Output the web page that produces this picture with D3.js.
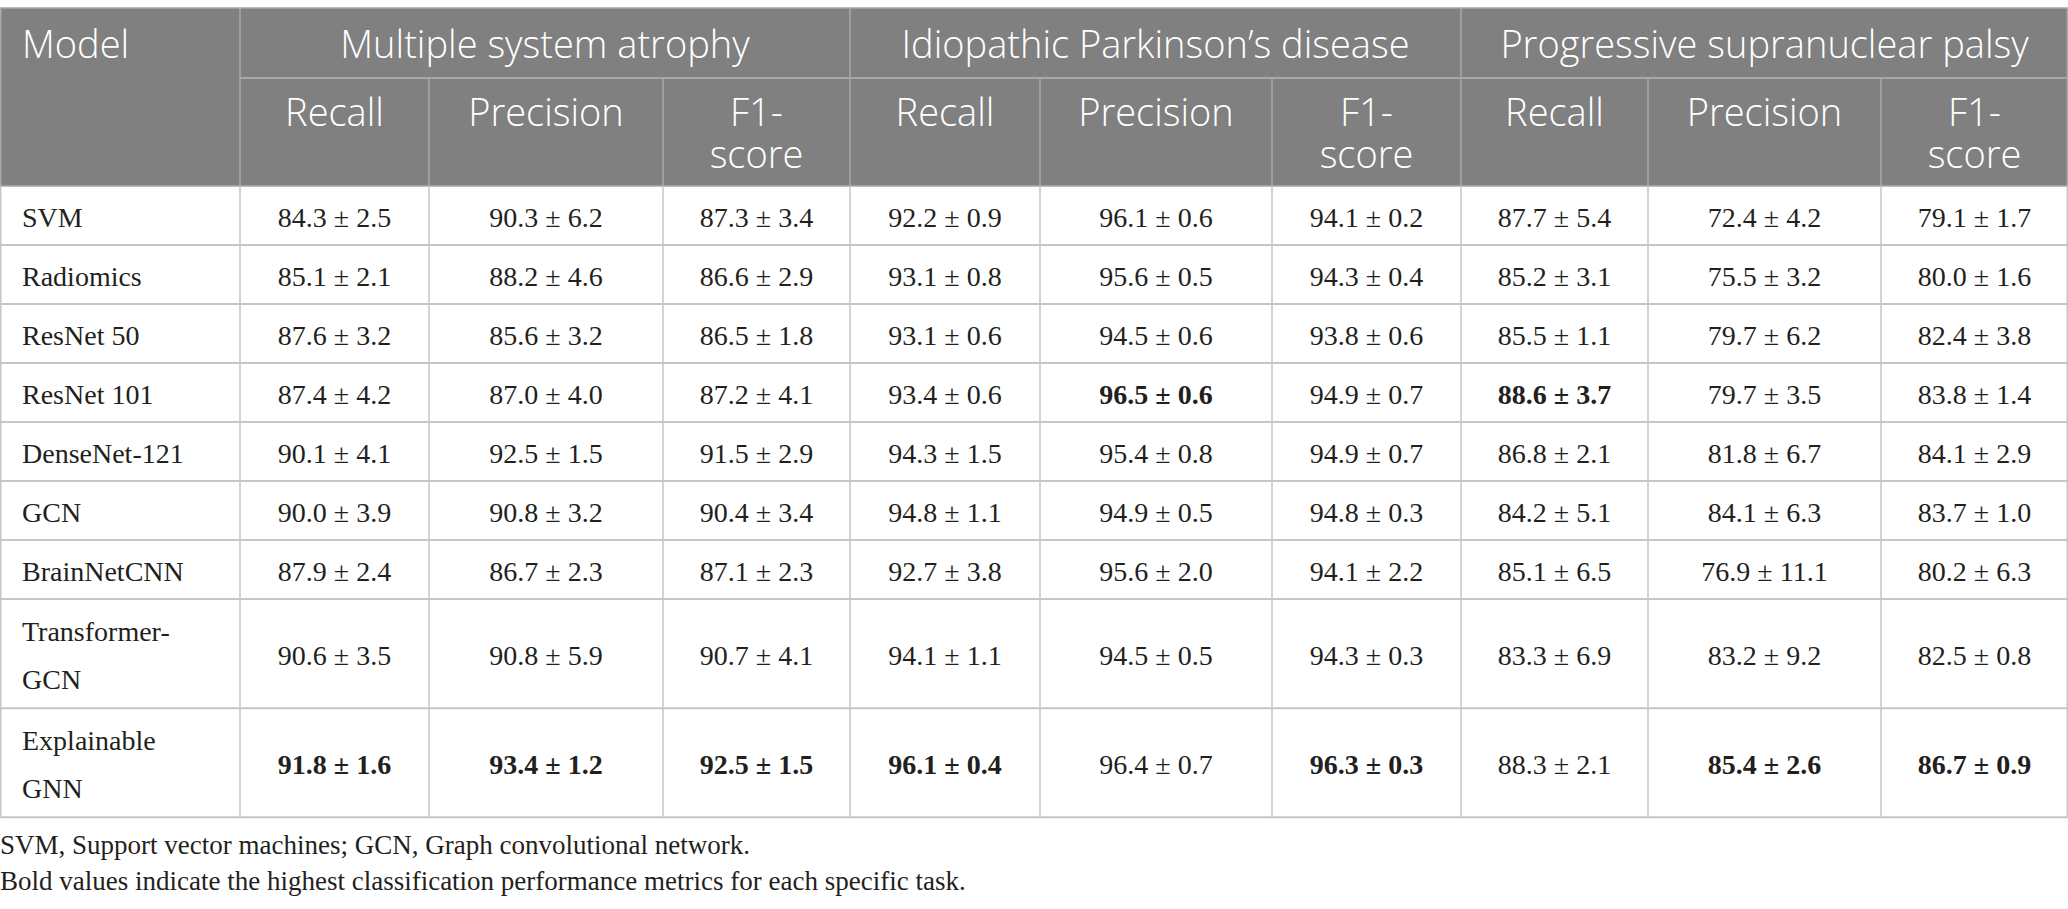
<!DOCTYPE html>
<html>
<head>
  <meta charset="utf-8">
  <title>Classification performance table</title>
  <style>
    html, body { margin: 0; padding: 0; background: #ffffff; }
    .head text { font-family: "Open Sans", "Noto Sans", sans-serif; font-weight: 300; fill: #ffffff; }
    .cell text { font-family: "Liberation Serif", "DejaVu Serif", serif; fill: #231f20; }
    .note text { font-family: "Liberation Serif", "DejaVu Serif", serif; fill: #231f20; }
  </style>
</head>
<body>
  <svg id="tbl"></svg>
  <script src="https://d3js.org/d3.v7.min.js"></script>
  <script>
    // table content
    const models = ["SVM", "Radiomics", "ResNet 50", "ResNet 101", "DenseNet-121", "GCN",
      "BrainNetCNN", "Transformer-\nGCN", "Explainable\nGNN"];
    const diseases = ["Multiple system atrophy", "Idiopathic Parkinson\u2019s disease", "Progressive supranuclear palsy"];
    const metrics = ["Recall", "Precision", "F1-\nscore"];

    // mean and sd per model: [recall, precision, f1]
    const msaMean = [[84.3, 90.3, 87.3], [85.1, 88.2, 86.6], [87.6, 85.6, 86.5], [87.4, 87.0, 87.2],
      [90.1, 92.5, 91.5], [90.0, 90.8, 90.4], [87.9, 86.7, 87.1], [90.6, 90.8, 90.7], [91.8, 93.4, 92.5]];
    const msaSd = [[2.5, 6.2, 3.4], [2.1, 4.6, 2.9], [3.2, 3.2, 1.8], [4.2, 4.0, 4.1],
      [4.1, 1.5, 2.9], [3.9, 3.2, 3.4], [2.4, 2.3, 2.3], [3.5, 5.9, 4.1], [1.6, 1.2, 1.5]];
    const ipdMean = [[92.2, 96.1, 94.1], [93.1, 95.6, 94.3], [93.1, 94.5, 93.8], [93.4, 96.5, 94.9],
      [94.3, 95.4, 94.9], [94.8, 94.9, 94.8], [92.7, 95.6, 94.1], [94.1, 94.5, 94.3], [96.1, 96.4, 96.3]];
    const ipdSd = [[0.9, 0.6, 0.2], [0.8, 0.5, 0.4], [0.6, 0.6, 0.6], [0.6, 0.6, 0.7],
      [1.5, 0.8, 0.7], [1.1, 0.5, 0.3], [3.8, 2.0, 2.2], [1.1, 0.5, 0.3], [0.4, 0.7, 0.3]];
    const pspMean = [[87.7, 72.4, 79.1], [85.2, 75.5, 80.0], [85.5, 79.7, 82.4], [88.6, 79.7, 83.8],
      [86.8, 81.8, 84.1], [84.2, 84.1, 83.7], [85.1, 76.9, 80.2], [83.3, 83.2, 82.5], [88.3, 85.4, 86.7]];
    const pspSd = [[5.4, 4.2, 1.7], [3.1, 3.2, 1.6], [1.1, 6.2, 3.8], [3.7, 3.5, 1.4],
      [2.1, 6.7, 2.9], [5.1, 6.3, 1.0], [6.5, 11.1, 6.3], [6.9, 9.2, 0.8], [2.1, 2.6, 0.9]];

    // bold cells: [row, column among the 9 value columns]
    const boldCells = [[3, 4], [3, 6], [8, 0], [8, 1], [8, 2], [8, 3], [8, 5], [8, 7], [8, 8]];

    const notes = ["SVM, Support vector machines; GCN, Graph convolutional network.",
      "Bold values indicate the highest classification performance metrics for each specific task."];

    // layout
    const W = 2068, H = 909;
    const colWidths = [240, 189, 234, 187, 190, 232, 189, 187, 233, 187];
    const tableTop = 8, head1 = 70, head2 = 108;
    const rowUnit = 59, lineGap = 48;
    const headFont = 38, cellFont = 28, noteFont = 27;

    const svg = d3.select("#tbl").attr("width", W).attr("height", H);

    // x positions from cumulative widths
    const colEdges = [0, ...d3.cumsum(colWidths)];
    const x = d3.scaleLinear().domain([0, d3.sum(colWidths)]).range([0, W]);
    const colX = i => x(colEdges[i]);
    const colMid = i => (colX(i) + colX(i + 1)) / 2;

    // row positions: rows with a wrapped label get more height
    const rowSpan = models.map(m => m.includes("\n") ? 1.85 : 1);
    const rowEdges = [0, ...d3.cumsum(rowSpan)];
    const bodyTop = tableTop + head1 + head2;
    const y = d3.scaleLinear().domain([0, 1]).range([bodyTop, bodyTop + rowUnit]);
    const rowMid = r => (y(rowEdges[r]) + y(rowEdges[r + 1])) / 2;
    const bodyBottom = y(rowEdges[rowEdges.length - 1]);

    // ---- header ----
    const head = svg.append("g").attr("class", "head");
    const headLine = "#a8a8a8";
    head.append("rect")
      .attr("x", 0.75).attr("y", tableTop)
      .attr("width", W - 1.5).attr("height", head1 + head2)
      .attr("fill", "#808080")
      .attr("stroke", headLine).attr("stroke-width", 1.5);

    head.append("line")
      .attr("x1", colX(1)).attr("x2", W)
      .attr("y1", tableTop + head1).attr("y2", tableTop + head1)
      .attr("stroke", headLine).attr("stroke-width", 2);

    // vertical lines: full height at group edges, lower half at metric edges
    d3.range(1, colWidths.length).forEach(i => {
      const full = (i - 1) % 3 === 0;
      head.append("line")
        .attr("x1", colX(i)).attr("x2", colX(i))
        .attr("y1", full ? tableTop : tableTop + head1).attr("y2", bodyTop)
        .attr("stroke", headLine).attr("stroke-width", 1.5);
    });

    head.append("text")
      .attr("x", 22).attr("y", tableTop + 50)
      .attr("font-size", headFont)
      .text("Model");

    head.selectAll("text.dis")
      .data(diseases)
      .enter()
      .append("text")
      .attr("class", "dis")
      .attr("x", (d, i) => (colX(1 + i * 3) + colX(4 + i * 3)) / 2)
      .attr("y", tableTop + 50)
      .attr("text-anchor", "middle")
      .attr("font-size", headFont)
      .text(d => d);

    const metricCols = d3.range(9).map(i => ({ col: i + 1, label: metrics[i % 3] }));
    const mt = head.selectAll("text.met")
      .data(metricCols)
      .enter()
      .append("text")
      .attr("class", "met")
      .attr("text-anchor", "middle")
      .attr("font-size", headFont);
    mt.selectAll("tspan")
      .data(d => d.label.split("\n").map(s => ({ s, col: d.col })))
      .enter()
      .append("tspan")
      .attr("x", d => colMid(d.col))
      .attr("y", (d, j) => tableTop + head1 + 48 + j * 42)
      .text(d => d.s);

    // ---- body ----
    const body = svg.append("g").attr("class", "cell");
    const gridColor = "#c6c6c6";

    // horizontal row lines
    body.selectAll("line.h")
      .data(rowEdges.slice(1))
      .enter()
      .append("line")
      .attr("x1", 0).attr("x2", W)
      .attr("y1", d => y(d)).attr("y2", d => y(d))
      .attr("stroke", gridColor).attr("stroke-width", 2);

    // vertical lines
    body.selectAll("line.v")
      .data(d3.range(0, colWidths.length + 1))
      .enter()
      .append("line")
      .attr("x1", d => Math.min(Math.max(colX(d), 0.75), W - 0.75))
      .attr("x2", d => Math.min(Math.max(colX(d), 0.75), W - 0.75))
      .attr("y1", bodyTop).attr("y2", bodyBottom)
      .attr("stroke", gridColor).attr("stroke-width", 1.5);

    // model labels
    const ml = body.selectAll("text.model")
      .data(models)
      .enter()
      .append("text")
      .attr("class", "model")
      .attr("font-size", cellFont);
    ml.selectAll("tspan")
      .data((d, i) => {
        const parts = d.split("\n");
        return parts.map((s, j) => ({ s, yy: rowMid(i) + 11 + (j - (parts.length - 1) / 2) * lineGap }));
      })
      .enter()
      .append("tspan")
      .attr("x", 22)
      .attr("y", d => d.yy)
      .text(d => d.s);

    // value cells
    const means = [msaMean, ipdMean, pspMean];
    const sds = [msaSd, ipdSd, pspSd];
    const isBold = (r, c) => boldCells.some(b => b[0] === r && b[1] === c);
    const cells = [];
    models.forEach((m, r) => {
      d3.range(9).forEach(c => {
        const g = Math.floor(c / 3), k = c % 3;
        cells.push({ r, c, mean: means[g][r][k], sd: sds[g][r][k] });
      });
    });

    body.selectAll("text.val")
      .data(cells)
      .enter()
      .append("text")
      .attr("class", "val")
      .attr("x", d => colMid(d.c + 1))
      .attr("y", d => rowMid(d.r) + 11)
      .attr("text-anchor", "middle")
      .attr("font-size", cellFont)
      .attr("font-weight", d => isBold(d.r, d.c) ? "bold" : "normal")
      .text(d => `${d.mean.toFixed(1)} \u00b1 ${d.sd.toFixed(1)}`);

    // ---- footnotes ----
    svg.append("g").attr("class", "note")
      .selectAll("text")
      .data(notes)
      .enter()
      .append("text")
      .attr("x", 0)
      .attr("y", (d, i) => bodyBottom + 37 + i * 36)
      .attr("font-size", noteFont)
      .text(d => d);
  </script>
</body>
</html>
